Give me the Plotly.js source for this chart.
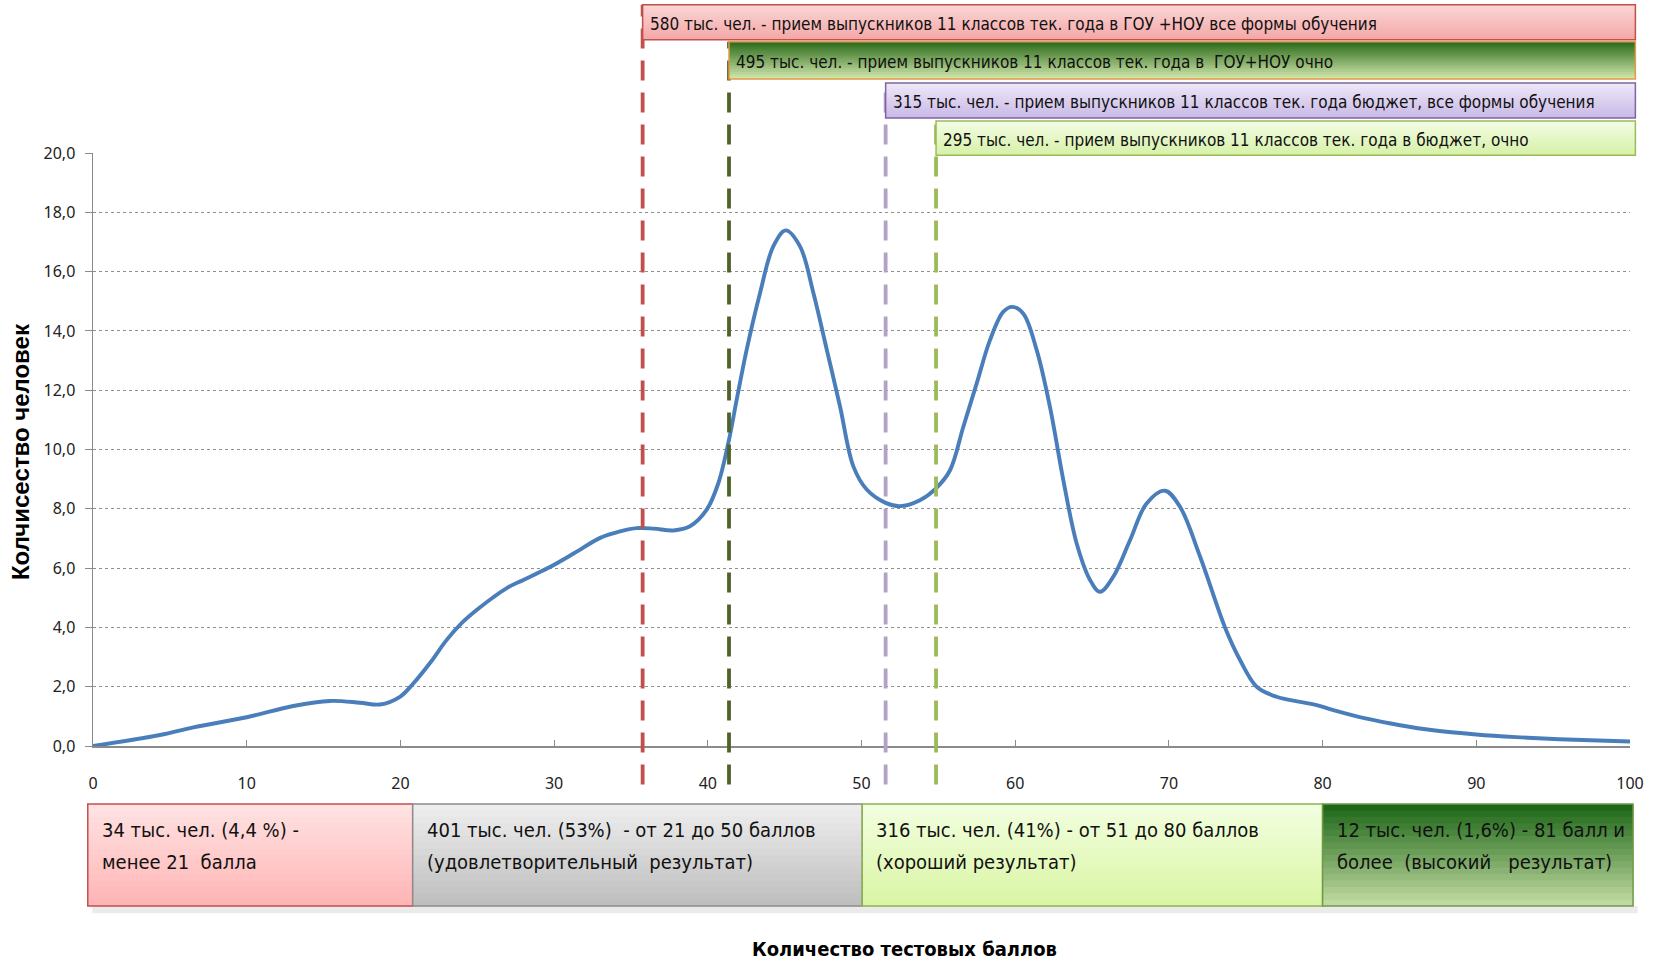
<!DOCTYPE html>
<html>
<head>
<meta charset="utf-8">
<script src="https://cdn.plot.ly/plotly-3.0.1.min.js"></script>
<style>
html,body{margin:0;padding:0;background:#fff;}
#chart{width:1659px;height:961px;}
</style>
</head>
<body>
<div id="chart"></div>
<script>
// ---------- DATA ----------
const scoreX = [0, 4.36, 6.53, 10, 13.03, 15.42, 17.37, 18.67, 19.97, 20.84, 22, 23, 24, 25, 26, 27, 28, 29.6, 31.3, 33.0, 34.29, 35.37, 36.5, 37.76, 38.84, 39.93, 40.69, 41.38, 41.88, 42.53, 43.4, 44.26, 45.07, 46.0, 46.87, 47.74, 48.6, 49.47, 50.34, 51.57, 52.5, 53.8, 54.85, 55.76, 56.62, 57.49, 58.36, 59.22, 59.81, 60.53, 61.4, 62.26, 63.13, 64.0, 64.87, 65.52, 66.38, 67.47, 68.55, 69.74, 70.72, 72.02, 73.65, 74.63, 75.71, 77.01, 78.53, 79.61, 80.7, 82.87, 85.04, 87.2, 90.0, 92.6, 95.4, 100];
const peopleY = [0, 0.37, 0.63, 0.97, 1.35, 1.52, 1.46, 1.40, 1.66, 2.11, 2.85, 3.57, 4.15, 4.6, 5.0, 5.35, 5.6, 6.0, 6.5, 7.02, 7.24, 7.35, 7.33, 7.27, 7.41, 7.97, 8.87, 10.33, 11.68, 13.37, 15.28, 16.85, 17.39, 16.85, 15.28, 13.37, 11.46, 9.43, 8.65, 8.20, 8.09, 8.29, 8.69, 9.30, 10.76, 12.22, 13.69, 14.64, 14.81, 14.58, 13.35, 11.44, 8.97, 6.83, 5.60, 5.20, 5.71, 6.94, 8.18, 8.61, 8.07, 6.40, 4.0, 2.9, 2.0, 1.66, 1.49, 1.38, 1.21, 0.92, 0.70, 0.53, 0.39, 0.30, 0.23, 0.15];

// admission thresholds (score positions of dashed lines)
const thresholdX = [35.76, 41.38, 51.57, 54.85];
const thresholdLabels = [
  "580 тыс. чел. - прием выпускников 11 классов тек. года в ГОУ +НОУ все формы обучения",
  "495 тыс. чел. - прием выпускников 11 классов тек. года в  ГОУ+НОУ очно",
  "315 тыс. чел. - прием выпускников 11 классов тек. года бюджет, все формы обучения",
  "295 тыс. чел. - прием выпускников 11 классов тек. года в бюджет, очно"
];

// result bands below axis
const bandEdges = [-0.34, 20.8, 50.05, 80.0, 100.2];
const bandLabels = [
  "34 тыс. чел. (4,4 %) -<br>менее 21  балла",
  "401 тыс. чел. (53%)  - от 21 до 50 баллов<br>(удовлетворительный  результат)",
  "316 тыс. чел. (41%) - от 51 до 80 баллов<br>(хороший результат)",
  "12 тыс. чел. (1,6%) - 81 балл и<br>более  (высокий   результат)"
];

const yTickVals = [0, 2, 4, 6, 8, 10, 12, 14, 16, 18, 20];
const xTickVals = [0, 10, 20, 30, 40, 50, 60, 70, 80, 90, 100];
const xTitle = "Количество тестовых баллов";
const yTitle = "Колчисество человек";

// ---------- STYLE ----------
const X_RANGE = [0, 100];
const COND = "DejaVu Sans Condensed, Liberation Sans Narrow, sans-serif";
const lineColors = ["#C0504D", "#4F6228", "#B3A2C7", "#9BBB59"];
const topBoxStyle = [
  {top: "#FBD6D6", bot: "#F4A6A6", border: "#C0504D"},
  {top: "#2B6A1A", bot: "#D3E8AE", border: "#E59A45"},
  {top: "#EEE9F8", bot: "#C9B8E6", border: "#8064A2"},
  {top: "#F4FCE4", bot: "#D6F1A8", border: "#9BBB59"}
];
const topBoxY = [[1.191, 1.25], [1.125, 1.1875], [1.059, 1.118], [0.996, 1.054]];
const topBoxRight = 100.35;
const bandStyle = [
  {top: "#FFE4E4", bot: "#FFB3B3", border: "#C0504D"},
  {top: "#EFEFEF", bot: "#BDBDBD", border: "#8C8C8C"},
  {top: "#F3FFE1", bot: "#D9F5A3", border: "#8DB255"},
  {top: "#1A6414", bot: "#C5DDA4", border: "#6E9A45"}
];
const bandY = [-0.270, -0.098];
const bandLineY = [-0.1417, -0.1956];

// data-x -> paper-x through the axis range (so boxes may extend past the axis ends)
function px(v){ return (v - X_RANGE[0]) / (X_RANGE[1] - X_RANGE[0]); }
function hex2rgb(h){return [parseInt(h.substr(1,2),16),parseInt(h.substr(3,2),16),parseInt(h.substr(5,2),16)];}
function mix(a,b,t){const A=hex2rgb(a),B=hex2rgb(b);return "rgb("+A.map((v,i)=>Math.round(v+(B[i]-v)*t)).join(",")+")";}

const shapes = [];
const annotations = [];
const N = 16;
function gradRect(x0, x1, yBot, yTop, cTop, cBot, border){
  const step = (yTop-yBot)/N;
  for(let i=0;i<N;i++){
    const t0 = yTop - step*i, t1 = Math.max(yBot, yTop - step*(i+1) - step*0.6);
    shapes.push({type:"rect", xref:"paper", yref:"paper", x0:px(x0), x1:px(x1), y0:t1, y1:t0,
      fillcolor: mix(cTop,cBot,(i+0.5)/N), line:{width:0}, layer:"above"});
  }
  shapes.push({type:"rect", xref:"paper", yref:"paper", x0:px(x0), x1:px(x1), y0:yBot, y1:yTop,
    fillcolor:"rgba(0,0,0,0)", line:{color:border, width:1.5}, layer:"above"});
}

// dashed threshold lines
thresholdX.forEach((v,i)=>{
  shapes.push({type:"line", xref:"x", yref:"paper", x0:v, x1:v, y0:-0.065, y1:topBoxY[i][1],
    line:{color:lineColors[i], width:3.8, dash:"20px,12px"}, layer:"above"});
});
// top label boxes
thresholdX.forEach((v,i)=>{
  const s = topBoxStyle[i];
  gradRect(v, topBoxRight, topBoxY[i][0], topBoxY[i][1], s.top, s.bot, s.border);
  annotations.push({xref:"x", yref:"paper", x:v, y:(topBoxY[i][0]+topBoxY[i][1])/2 - 0.003,
    xanchor:"left", yanchor:"middle", xshift:5, showarrow:false, text:thresholdLabels[i],
    font:{family:COND, size:17, color:"#111"}});
});
// bottom bands
bandLabels.forEach((lab,i)=>{
  const s = bandStyle[i];
  shapes.push({type:"rect", xref:"paper", yref:"paper", x0:px(bandEdges[i]+0.3), x1:px(bandEdges[i+1]+0.3),
    y0:bandY[0]-0.012, y1:bandY[0], fillcolor:"rgba(0,0,0,0.08)", line:{width:0}, layer:"above"});
  gradRect(bandEdges[i], bandEdges[i+1], bandY[0], bandY[1], s.top, s.bot, s.border);
  lab.split("<br>").forEach((ln,j)=>{
    annotations.push({xref:"paper", yref:"paper", x:px(bandEdges[i]), y:bandLineY[j],
      xanchor:"left", yanchor:"middle", xshift:12, showarrow:false, align:"left", text:ln,
      font:{family:COND, size:20, color:"#111"}});
  });
});
// axis titles
annotations.push({xref:"paper", yref:"paper", x:0.528, y:-0.342, xanchor:"center", yanchor:"middle",
  showarrow:false, text:"<b>"+xTitle+"</b>",
  font:{family:COND, size:20, color:"#000"}});
annotations.push({xref:"paper", yref:"paper", x:-0.047, y:0.497, xanchor:"center", yanchor:"middle",
  textangle:-90, showarrow:false, text:"<b>"+yTitle+"</b>",
  font:{family:"Liberation Sans, Arial, sans-serif", size:24, color:"#000"}});

const trace = {x:scoreX, y:peopleY, type:"scatter", mode:"lines",
  line:{color:"#4A7EBB", width:3.9, shape:"spline", smoothing:1.0}, hoverinfo:"x+y"};

const layout = {
  width:1659, height:961,
  margin:{l:93, r:29, t:153, b:215},
  paper_bgcolor:"#fff", plot_bgcolor:"#fff",
  separators:", ",
  showlegend:false,
  font:{family:"Noto Sans, Open Sans, sans-serif", size:17, color:"#222"},
  xaxis:{range:X_RANGE, tickvals:xTickVals, ticks:"inside", ticklen:6, tickcolor:"#8a8a8a",
    showline:true, linecolor:"#8a8a8a", linewidth:1.5, showgrid:false, zeroline:false,
    ticklabelstandoff:22, tickfont:{family:"Noto Sans, Open Sans, sans-serif", size:16, color:"#222"}},
  yaxis:{range:[0,20], tickvals:yTickVals, tickformat:".1f", ticks:"outside", ticklen:7, tickcolor:"#8a8a8a",
    showline:true, linecolor:"#8a8a8a", linewidth:1.5, showgrid:true, gridcolor:"#8f8f8f", gridwidth:1, griddash:"dot",
    zeroline:false, ticklabelstandoff:6, tickfont:{family:"Noto Sans, Open Sans, sans-serif", size:16, color:"#222"}},
  shapes:shapes,
  annotations:annotations
};

Plotly.newPlot("chart", [trace], layout, {displayModeBar:false, staticPlot:true});
</script>
</body>
</html>
